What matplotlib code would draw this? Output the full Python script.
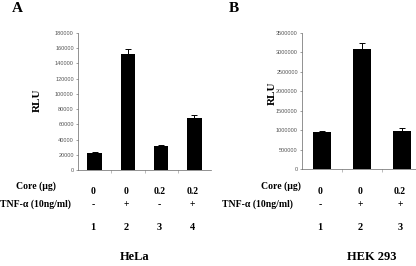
import numpy as np
import matplotlib
matplotlib.use("Agg")
import matplotlib.pyplot as plt
import matplotlib.transforms as mtrans

# panel A (HeLa)
hela_rlu = [22500, 152000, 31000, 68500]
hela_err = [1500, 6500, 2000, 3500]
hela_core = ["0", "0", "0.2", "0.2"]
hela_tnf = ["-", "+", "-", "+"]
hela_lane = ["1", "2", "3", "4"]
hela_ticks = np.arange(0, 180001, 20000)

# panel B (HEK 293)
hek_rlu = [950000, 3080000, 990000]
hek_err = [30000, 170000, 65000]
hek_core = ["0", "0", "0.2"]
hek_tnf = ["-", "+", "+"]
hek_lane = ["1", "2", "3"]
hek_ticks = np.arange(0, 3500001, 500000)

W, H = 416, 266
SERIF = ["Liberation Serif", "DejaVu Serif"]

fig = plt.figure(figsize=(W/100, H/100), dpi=100)

def px(x0, y0, x1, y1):
	return [x0/W, 1-y1/H, (x1-x0)/W, (y1-y0)/H]

def draw_panel(rect, vals, errs, ticks, xmax, letter, letter_xy, rlu_xy):
	ax = fig.add_axes(rect)
	x = np.arange(len(vals))
	ax.bar(x, vals, width=0.43, color="black", yerr=errs,
		error_kw=dict(ecolor="black", elinewidth=0.7, capsize=2, capthick=0.7))
	ax.set_xlim(-0.5, xmax)
	ax.set_ylim(0, ticks[-1])
	ax.set_yticks(ticks)
	ax.set_yticklabels([str(t) for t in ticks], fontsize=4, color="#333333", family="Liberation Sans")
	ax.set_xticks(np.arange(len(vals)-1)+0.5)
	ax.set_xticklabels([])
	ax.tick_params(axis="y", length=1.5, width=0.4, pad=1.5, colors="#555555")
	ax.tick_params(axis="x", length=2, width=0.4, colors="#888888")
	for s in ["top", "right"]:
		ax.spines[s].set_visible(False)
	ax.spines["left"].set_linewidth(0.5)
	ax.spines["left"].set_color("#666666")
	ax.spines["bottom"].set_linewidth(0.5)
	ax.spines["bottom"].set_color("#666666")
	fig.text(letter_xy[0]/W, 1-letter_xy[1]/H, letter, family=SERIF, weight="bold",
		fontsize=11, ha="center", va="center")
	fig.text(rlu_xy[0]/W, 1-rlu_xy[1]/H, "RLU", family=SERIF, weight="bold",
		fontsize=8, rotation=90, ha="center", va="center")
	return ax

def draw_table(ax, core, tnf, lane, label_right, tnf_left, cell, cell_xy):
	tr = mtrans.blended_transform_factory(ax.transData, fig.transFigure)
	fig.text(label_right/W, 1-186/H, "Core (µg)", family=SERIF, weight="bold",
		fontsize=7, ha="right", va="center")
	fig.text(tnf_left/W, 1-204/H, "TNF-α (10ng/ml)", family=SERIF, weight="bold",
		fontsize=7, ha="left", va="center")
	for i in range(len(core)):
		ax.text(i-0.05, 1-192/H, core[i], transform=tr, family=SERIF, weight="bold",
			fontsize=7, ha="center", va="center")
		ax.text(i-0.05, 1-205/H, tnf[i], transform=tr, family=SERIF, weight="bold",
			fontsize=7, ha="center", va="center")
		ax.text(i-0.05, 1-227/H, lane[i], transform=tr, family=SERIF, weight="bold",
			fontsize=7.5, ha="center", va="center")
	fig.text(cell_xy[0]/W, 1-cell_xy[1]/H, cell, family=SERIF, weight="bold",
		fontsize=9, ha="center", va="center")

axA = draw_panel(px(78, 33, 211, 170), hela_rlu, hela_err, hela_ticks, 3.5, "A", (17, 8), (37, 100))
draw_table(axA, hela_core, hela_tnf, hela_lane, 56, 0, "HeLa", (135, 257))

axB = draw_panel(px(302, 33, 416, 169), hek_rlu, hek_err, hek_ticks, 2.35, "B", (234, 8), (272, 93))
draw_table(axB, hek_core, hek_tnf, hek_lane, 301, 222, "HEK 293", (372, 257))

fig.savefig("out.png", dpi=100)
